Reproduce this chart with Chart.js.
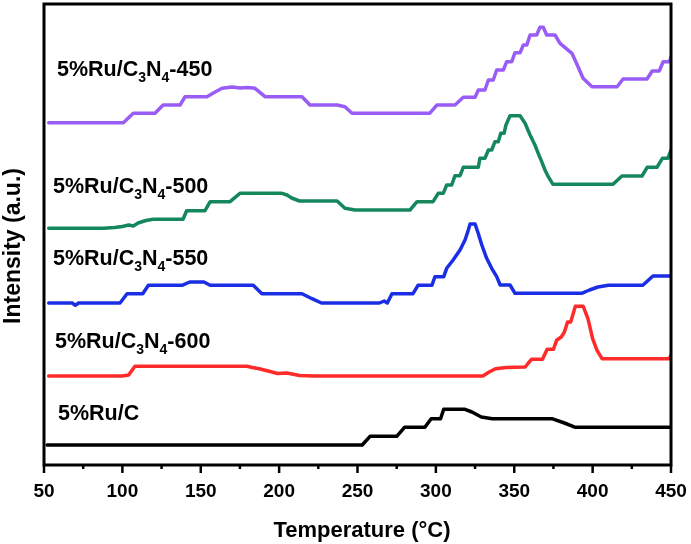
<!DOCTYPE html>
<html>
<head>
<meta charset="utf-8">
<script src="https://cdn.jsdelivr.net/npm/chart.js@4.4.0/dist/chart.umd.min.js"></script>
<style>
  html, body { margin: 0; padding: 0; background: #fff; }
</style>
</head>
<body>
<canvas id="tprChart" width="691" height="544"></canvas>
<script>
// temperature (°C) and intensity (a.u.), one pair of arrays per sample
const temps450 = [53, 100.6, 107, 120.8, 126, 136.8, 140, 154, 158, 163.6, 170, 175, 180, 184.6, 191, 214.6, 219.7, 237, 242, 246.5, 296, 300.7, 312.2, 317.5, 325.0, 327.1, 331.3, 333.5, 336.6, 338.8, 343.0, 345.2, 348.4, 350.5, 353.7, 355.8, 358.0, 360.1, 364.3, 366.4, 368.5, 370.7, 376, 379.2, 386.8, 390.7, 393.9, 399.6, 415.6, 419.4, 434.7, 438, 442.5, 445, 449, 450];
const int450 = [34.23, 34.23, 35.17, 35.17, 36.0, 36.0, 36.83, 36.83, 37.2, 37.67, 37.8, 37.7, 37.75, 37.67, 36.83, 36.83, 36.0, 36.0, 35.83, 35.17, 35.17, 36.0, 36.0, 36.77, 36.77, 37.5, 37.5, 38.5, 38.5, 39.5, 39.5, 40.33, 40.33, 41.23, 41.23, 42.0, 42.0, 43.0, 43.0, 43.77, 43.77, 43.0, 43.0, 42.17, 41.17, 39.83, 38.67, 37.83, 37.83, 38.6, 38.6, 39.4, 39.4, 40.33, 40.33, 40.8];

const temps500 = [53, 88, 95, 100, 104, 107, 110, 115, 119.6, 138.7, 141, 152.7, 156, 168.7, 175, 201.8, 205, 208, 213, 237, 242, 248.4, 283.5, 288, 298.2, 301.5, 304.7, 306.9, 310.1, 312.2, 315.4, 317.5, 327.1, 328.1, 331.3, 333.5, 335.6, 337.7, 339.8, 341.4, 343.5, 344.7, 347.3, 353.7, 356.9, 360.1, 363.2, 365.3, 367.5, 369.6, 371.7, 374.7, 413, 418.7, 431.5, 434.8, 441, 444.5, 448, 450];
const int500 = [23.67, 23.67, 23.75, 23.85, 24.0, 23.9, 24.2, 24.45, 24.57, 24.57, 25.43, 25.43, 26.33, 26.33, 27.17, 27.17, 27.0, 26.7, 26.4, 26.4, 25.67, 25.5, 25.5, 26.33, 26.33, 27.17, 27.17, 28.0, 28.0, 28.93, 28.93, 29.77, 29.77, 30.67, 30.67, 31.5, 31.5, 32.33, 32.33, 33.17, 33.17, 34.0, 34.93, 34.93, 34.17, 33.0, 32.0, 31.17, 30.33, 29.5, 28.83, 28.07, 28.07, 28.9, 28.9, 29.77, 29.77, 30.67, 30.67, 31.5];

const temps550 = [53, 68, 70, 72, 98.5, 103, 113, 116.6, 138, 143, 152, 156, 183.5, 189, 214.6, 221, 227, 264, 267, 269, 272, 285.4, 288.6, 297.5, 299.4, 305, 306.9, 311, 315.4, 318.6, 320.7, 321.8, 325, 327, 329.3, 332.4, 335.6, 338.8, 341, 347.3, 350.5, 393, 398, 403.4, 410, 432, 438.5, 450];
const int550 = [16.2, 16.2, 15.97, 16.2, 16.2, 17.13, 17.13, 17.97, 17.97, 18.3, 18.3, 17.97, 17.97, 17.13, 17.13, 16.63, 16.2, 16.2, 16.4, 16.2, 17.13, 17.13, 17.97, 17.97, 18.83, 18.83, 19.67, 20.5, 21.5, 22.5, 23.5, 24.1, 24.1, 23.17, 22.0, 20.67, 19.67, 18.83, 18.0, 18.0, 17.17, 17.17, 17.5, 17.8, 17.97, 17.97, 18.9, 18.9];

const temps600 = [53, 100, 104, 108, 179.5, 183, 188, 193, 199, 205, 213, 222, 330, 334, 338, 345, 357, 359, 361, 368, 371, 375, 377, 380, 382, 384, 386, 389, 394, 397, 400, 402.8, 406, 449, 450];
const int600 = [8.9, 8.9, 9.0, 9.87, 9.87, 9.75, 9.6, 9.4, 9.15, 9.2, 8.95, 8.9, 8.9, 9.3, 9.63, 9.75, 9.8, 10.2, 10.57, 10.57, 11.57, 11.57, 12.47, 12.8, 13.3, 14.3, 14.3, 15.87, 15.87, 14.63, 12.63, 11.47, 10.63, 10.63, 11.0];

const tempsRuC = [52, 253, 258, 275, 280, 293, 297, 303, 305, 318.6, 323, 329, 336, 374, 382, 389, 450];
const intRuC = [2.0, 2.0, 2.87, 2.87, 3.77, 3.77, 4.63, 4.63, 5.57, 5.57, 5.3, 4.8, 4.63, 4.63, 4.2, 3.77, 3.77];

// "_3" means subscript 3
const sampleNames = ['5%Ru/C_3N_4-450', '5%Ru/C_3N_4-500', '5%Ru/C_3N_4-550', '5%Ru/C_3N_4-600', '5%Ru/C'];
const xTickValues = [50, 100, 150, 200, 250, 300, 350, 400, 450];

const toPoints = (xs, ys) => xs.map((x, i) => ({ x: x, y: ys[i] }));

const series = [
    { data: toPoints(temps450, int450), color: '#9a5cf6' },
    { data: toPoints(temps500, int500), color: '#14875c' },
    { data: toPoints(temps550, int550), color: '#1a2ee6' },
    { data: toPoints(temps600, int600), color: '#ff2a2a' },
    { data: toPoints(tempsRuC, intRuC), color: '#000000' }
];

// where each sample name sits, in chart units (temperature, intensity)
const nameAnchors = [[58.3, 38.9], [55.7, 27.2], [55.7, 20.0], [57, 11.7], [58.9, 4.5]];

const FONT = '"Liberation Sans", Arial, sans-serif';

function drawChem(ctx, text, x, y) {
    const parts = text.split(/(_\d)/).filter(p => p.length);
    let cx = x;
    parts.forEach(p => {
        if (p[0] === '_') {
            ctx.font = 'bold 14px ' + FONT;
            ctx.fillText(p.slice(1), cx, y + 6);
            cx += ctx.measureText(p.slice(1)).width;
        } else {
            ctx.font = 'bold 21.5px ' + FONT;
            ctx.fillText(p, cx, y);
            cx += ctx.measureText(p).width;
        }
    });
}

const decorPlugin = {
    id: 'decor',
    afterDraw(chart) {
        const ctx = chart.ctx;
        const area = chart.chartArea;
        const xs = chart.scales.x;
        const ys = chart.scales.y;
        ctx.save();

        // frame
        ctx.strokeStyle = '#000';
        ctx.lineWidth = 3;
        ctx.strokeRect(area.left, area.top, area.right - area.left, area.bottom - area.top);

        // tick marks, major every 50 and minor every 25
        ctx.lineWidth = 2.5;
        xs.ticks.forEach(t => {
            const px = xs.getPixelForValue(t.value);
            const len = t.value % 50 === 0 ? 8 : 4;
            ctx.beginPath();
            ctx.moveTo(px, area.bottom);
            ctx.lineTo(px, area.bottom + len);
            ctx.stroke();
        });

        // sample names
        ctx.fillStyle = '#000';
        ctx.textAlign = 'left';
        ctx.textBaseline = 'alphabetic';
        sampleNames.forEach((name, i) => {
            const a = nameAnchors[i];
            drawChem(ctx, name, xs.getPixelForValue(a[0]), ys.getPixelForValue(a[1]));
        });

        // axis titles
        ctx.font = 'bold 22px ' + FONT;
        ctx.textAlign = 'center';
        ctx.fillText('Temperature (\u00B0C)', 362, 537);

        ctx.translate(20, 246);
        ctx.rotate(-Math.PI / 2);
        ctx.font = 'bold 23px ' + FONT;
        ctx.fillText('Intensity (a.u.)', 0, 0);
        ctx.restore();
    }
};

new Chart(document.getElementById('tprChart'), {
    type: 'line',
    data: {
        datasets: series.map(s => ({
            data: s.data,
            borderColor: s.color,
            borderWidth: 3.5,
            borderJoinStyle: 'round',
            borderCapStyle: 'round',
            pointRadius: 0,
            tension: 0,
            fill: false
        }))
    },
    options: {
        responsive: false,
        animation: false,
        devicePixelRatio: 1,
        layout: { padding: { left: 44, top: 4, right: 20, bottom: 0 } },
        plugins: {
            legend: { display: false },
            tooltip: { enabled: false }
        },
        scales: {
            x: {
                type: 'linear',
                min: 50,
                max: 450,
                afterFit: scale => {
                    scale.height = 79;
                    scale.paddingLeft = 0;
                    scale.paddingRight = 0;
                },
                grid: { display: true, drawOnChartArea: false, drawTicks: false },
                border: { display: false },
                ticks: {
                    stepSize: 25,
                    padding: 15,
                    color: '#000',
                    maxRotation: 0,
                    autoSkip: false,
                    font: { family: FONT, size: 19, weight: 'bold' },
                    callback: v => xTickValues.includes(v) ? v : ''
                }
            },
            y: {
                display: false,
                min: 0,
                max: 46.1
            }
        }
    },
    plugins: [decorPlugin]
});
</script>
</body>
</html>
